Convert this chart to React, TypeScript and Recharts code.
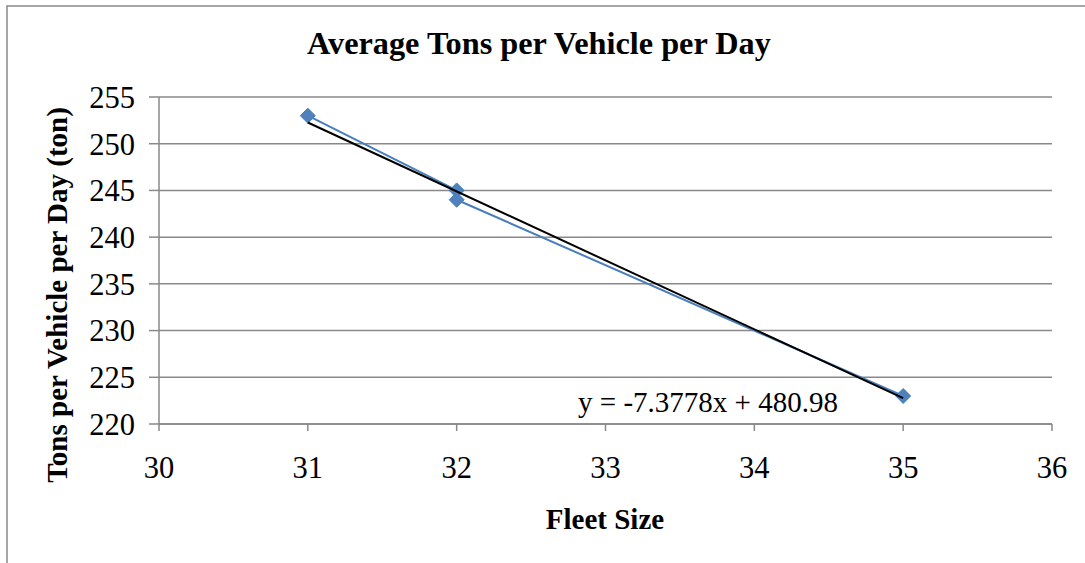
import { CartesianGrid, Scatter, ScatterChart, XAxis, YAxis } from 'recharts'

// values
const fleetSizes = [31, 32, 32, 35]
const tonsPerVehicle = [253, 245, 244, 223]
const trendX = [31, 35]
const trendY = [252.27, 222.76]
const xTicks = [30, 31, 32, 33, 34, 35, 36]
const yTicks = [220, 225, 230, 235, 240, 245, 250, 255]

const observed = fleetSizes.map((x, i) => ({ x, y: tonsPerVehicle[i] }))
const trend = trendX.map((x, i) => ({ x, y: trendY[i] }))

const serif = 'Liberation Serif'
const grey = '#898989'
const blue = '#4a7ebb'
const tickStyle = { fill: '#000', fontSize: 30.5, fontFamily: serif, style: { fontFamily: serif } }

function Diamond(props: any) {
  const { cx, cy } = props
  const r = 7.5
  return (
    <polygon
      points={`${cx},${cy - r} ${cx + r},${cy} ${cx},${cy + r} ${cx - r},${cy}`}
      fill='#4f81bd'
      stroke={blue}
      strokeWidth={1}
    />
  )
}

export default function App() {
  return (
    <div
      style={{
        position: 'absolute',
        left: 0,
        top: 0,
        width: 1085,
        height: 563,
        background: '#fff',
        fontFamily: serif,
      }}
    >
      <ScatterChart
        width={1085}
        height={563}
        margin={{ top: 97, right: 33, bottom: 0, left: 0 }}
        style={{ fontFamily: serif }}
      >
        <CartesianGrid vertical={false} stroke={grey} strokeWidth={1.5} />
        <XAxis
          type='number'
          dataKey='x'
          domain={[30, 36]}
          ticks={xTicks}
          allowDataOverflow
          height={139}
          stroke={grey}
          strokeWidth={1.5}
          tickSize={7}
          tickMargin={25}
          tick={tickStyle}
        />
        <YAxis
          type='number'
          dataKey='y'
          domain={[220, 255]}
          ticks={yTicks}
          allowDataOverflow
          width={159}
          stroke={grey}
          strokeWidth={1.5}
          tickSize={10}
          tickMargin={14}
          tick={tickStyle}
        />
        <Scatter
          data={observed}
          line={{ stroke: blue, strokeWidth: 2 }}
          shape={Diamond}
          isAnimationActive={false}
        />
        <Scatter
          data={trend}
          line={{ stroke: '#000', strokeWidth: 2 }}
          shape={() => <g />}
          isAnimationActive={false}
        />
      </ScatterChart>
      <svg
        width={1085}
        height={563}
        style={{ position: 'absolute', left: 0, top: 0, pointerEvents: 'none', fontFamily: serif }}
      >
        <rect x={7} y={6} width={1200} height={800} fill='none' stroke={grey} strokeWidth={1.5} />
        <text x={539} y={54} textAnchor='middle' fontSize={32.3} fontWeight='bold'>
          Average Tons per Vehicle per Day
        </text>
        <text x={605} y={529} textAnchor='middle' fontSize={29} fontWeight='bold'>
          Fleet Size
        </text>
        <text
          x={0}
          y={0}
          transform='translate(67 295) rotate(-90)'
          textAnchor='middle'
          fontSize={29}
          fontWeight='bold'
        >
          Tons per Vehicle per Day (ton)
        </text>
        <text x={708} y={412} textAnchor='middle' fontSize={29}>
          y = -7.3778x + 480.98
        </text>
      </svg>
    </div>
  )
}
